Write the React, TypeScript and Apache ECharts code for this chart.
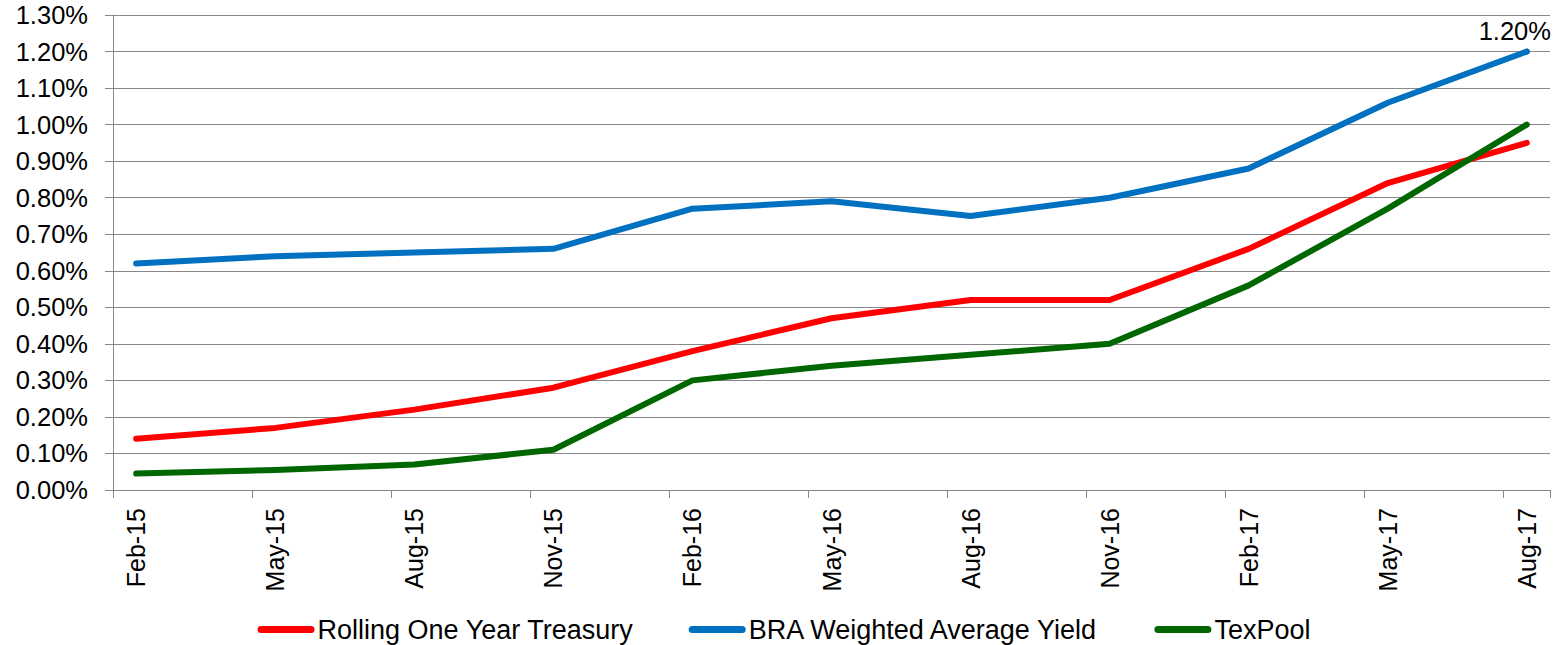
import React, { useEffect, useRef } from "react";
import * as echarts from "echarts";

const months = [
  "Feb-15", "Mar-15", "Apr-15", "May-15", "Jun-15", "Jul-15", "Aug-15", "Sep-15", "Oct-15",
  "Nov-15", "Dec-15", "Jan-16", "Feb-16", "Mar-16", "Apr-16", "May-16", "Jun-16", "Jul-16",
  "Aug-16", "Sep-16", "Oct-16", "Nov-16", "Dec-16", "Jan-17", "Feb-17", "Mar-17", "Apr-17",
  "May-17", "Jun-17", "Jul-17", "Aug-17",
];

const quarters = ["Feb-15", "May-15", "Aug-15", "Nov-15", "Feb-16", "May-16", "Aug-16", "Nov-16", "Feb-17", "May-17", "Aug-17"];

const treasury = [0.14, 0.17, 0.22, 0.28, 0.38, 0.47, 0.52, 0.52, 0.66, 0.84, 0.95];
const braYield = [0.62, 0.64, 0.65, 0.66, 0.77, 0.79, 0.75, 0.80, 0.88, 1.06, 1.20];
const texPool = [0.045, 0.055, 0.07, 0.11, 0.30, 0.34, 0.37, 0.40, 0.56, 0.77, 1.00];

const seriesNames = ["Rolling One Year Treasury", "BRA Weighted Average Yield", "TexPool"];
const seriesColors = ["#FF0000", "#0070C0", "#006600"];

const FONT = "Liberation Sans, Arial, sans-serif";
const GRID = "#888888";

function toMonthly(values: number[]) {
  const out: any[] = months.map(() => null);
  quarters.forEach((q, i) => {
    out[months.indexOf(q)] = values[i];
  });
  return out;
}

export default function App() {
  const ref = useRef<HTMLDivElement>(null);
  useEffect(() => {
    if (!ref.current) return;
    const chart = echarts.init(ref.current, null, { renderer: "svg" });
    const allValues = [treasury, braYield, texPool];
    const lastIdx = months.indexOf(quarters[quarters.length - 1]);
    const lastVal = braYield[braYield.length - 1];
    chart.setOption({
      animation: false,
      backgroundColor: "#ffffff",
      grid: { left: 113, right: 18, top: 15, bottom: 155, containLabel: false },
      legend: {
        bottom: -3,
        left: "center",
        itemWidth: 57,
        itemHeight: 7,
        itemGap: 55,
        icon: "path://M3.5,0 H53.5 A3.5,3.5 0 0 1 53.5,7 H3.5 A3.5,3.5 0 0 1 3.5,0 Z",
        textStyle: { fontFamily: FONT, fontSize: 27, color: "#000", padding: [0, 0, 0, -2] },
        data: seriesNames,
      },
      xAxis: {
        type: "category",
        data: months,
        boundaryGap: true,
        axisLine: { show: true, lineStyle: { color: GRID, width: 1 } },
        axisTick: { show: true, interval: 2, length: 8, lineStyle: { color: GRID } },
        axisLabel: {
          interval: 2,
          rotate: 90,
          margin: 18,
          fontFamily: FONT,
          fontSize: 25,
          color: "#000",
        },
        splitLine: { show: false },
      },
      yAxis: {
        type: "value",
        min: 0,
        max: 1.3,
        interval: 0.1,
        axisLine: { show: true, lineStyle: { color: GRID, width: 1 } },
        axisTick: { show: true, length: 8, lineStyle: { color: GRID } },
        axisLabel: {
          margin: 25,
          fontFamily: FONT,
          fontSize: 25.5,
          color: "#000",
          formatter: (v: number) => v.toFixed(2) + "%",
        },
        splitLine: { show: true, lineStyle: { color: GRID, width: 1 } },
      },
      series: seriesNames.map((name, i) => ({
        name,
        type: "line",
        data: toMonthly(allValues[i]),
        connectNulls: true,
        showSymbol: false,
        symbol: "none",
        color: seriesColors[i],
        lineStyle: { color: seriesColors[i], width: 6, cap: "round", join: "round" },
        z: 2 + i,
        markPoint:
          i === 1
            ? {
                symbol: "circle",
                symbolSize: 6,
                itemStyle: { color: seriesColors[i] },
                label: {
                  show: true,
                  position: "top",
                  distance: 5,
                  offset: [-12, 0],
                  formatter: (p: any) => Number(p.value).toFixed(2) + "%",
                  color: "#000",
                  fontFamily: FONT,
                  fontSize: 25.5,
                },
                data: [{ coord: [lastIdx, lastVal], value: lastVal }],
              }
            : undefined,
      })),
    });
    return () => chart.dispose();
  }, []);
  return (
    <div
      ref={ref}
      style={{ position: "absolute", left: 0, top: 0, width: 1568, height: 645 }}
    />
  );
}
